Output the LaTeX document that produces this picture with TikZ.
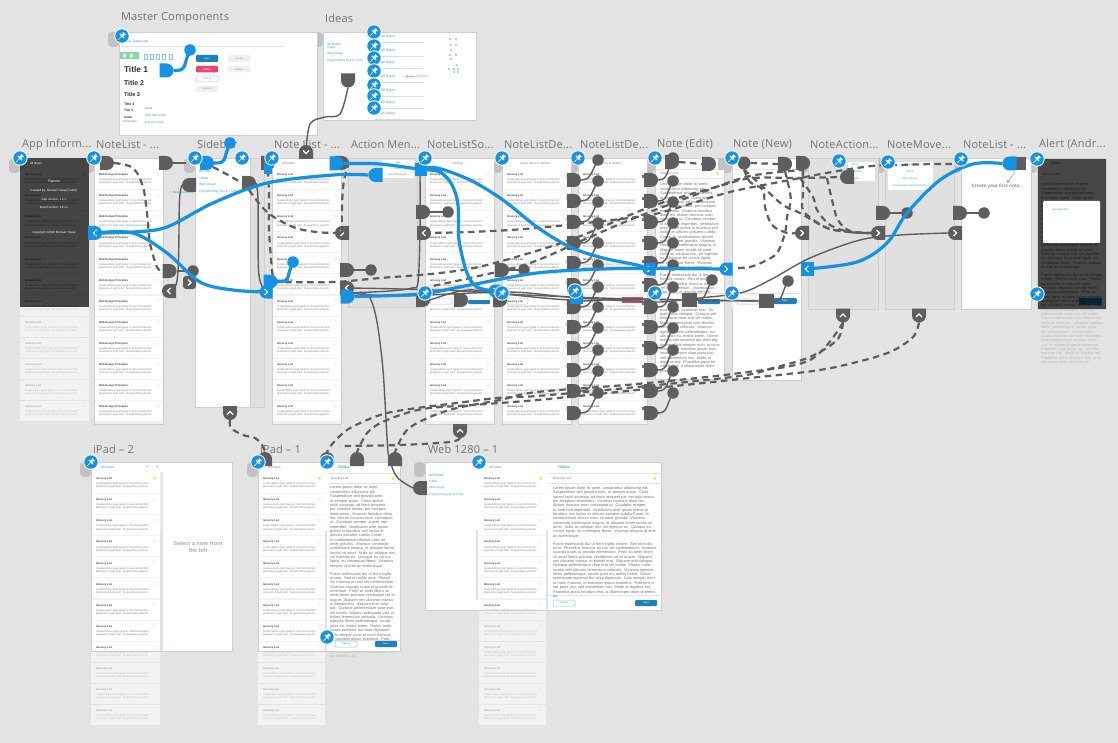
\documentclass[tikz,border=0pt]{standalone}
\usepackage{fontspec}
\setmainfont{Liberation Sans}
\newfontfamily\ttlfont[LetterSpace=2.0]{Open Sans}
\newfontfamily\djv{DejaVu Sans}
\usetikzlibrary{shapes.misc,shapes.geometric}
\definecolor{bgc}{HTML}{E3E3E3}
\definecolor{hsgray}{HTML}{5E5E5E}
\definecolor{hsblue}{HTML}{1592E6}
\definecolor{linkb}{HTML}{3C9FDC}
\definecolor{savebl}{HTML}{1C7FBE}
\definecolor{pinkc}{HTML}{EE4467}
\definecolor{tabc}{HTML}{C2C2C2}
\definecolor{edgec}{HTML}{CFCFCF}
\definecolor{scrollc}{HTML}{DCE3EE}
\newcommand\fsz[1]{\fontsize{#1}{#1}\selectfont}
\tikzset{
 txt/.style={inner sep=0pt,outer sep=0pt,anchor=west},
 ttl/.style={txt,font=\ttlfont\fontsize{11}{11}\selectfont,text=black!55},
 lnk/.style={txt,font={\fsz{3.2}},text=linkb},
 boardst/.style={fill=white,draw=edgec,line width=.8pt},
 panelst/.style={fill=black!12,draw=edgec,line width=.8pt},
 hsbase/.style={rounded rectangle,minimum width=13pt,minimum height=14pt,inner sep=0pt,outer sep=0pt},
 hsr/.style={hsbase,rounded rectangle left arc=none,fill=#1},
 hsr/.default=hsgray,
 hsl/.style={hsbase,rounded rectangle right arc=none,fill=#1},
 hsl/.default=hsgray,
 hsd/.style={hsbase,rounded rectangle left arc=none,rotate=-90,fill=#1},
 hsd/.default=hsgray,
 hsu/.style={hsbase,rounded rectangle left arc=none,rotate=90,fill=#1},
 hsu/.default=hsgray,
 hsq/.style={rectangle,minimum width=15pt,minimum height=14pt,inner sep=0pt,outer sep=0pt,fill=#1},
 hsq/.default=hsgray,
 hdot/.style={circle,minimum size=11.5pt,inner sep=0pt,outer sep=0pt,fill=#1},
 hdot/.default=hsgray,
 gline/.style={draw=hsgray,line width=1.4pt},
 gdash/.style={draw=hsgray,line width=2.2pt,dash pattern=on 6.5pt off 4.5pt},
 bline/.style={draw=hsblue,line width=3.2pt},
 pinbase/.style={circle,minimum size=14.5pt,inner sep=0pt,fill=hsblue,draw=white,line width=.9pt},
 btn/.style={rounded corners=1pt},
 btntxt/.style={inner sep=0pt,font={\fsz{2.6}}},
}
\newcommand\cv[2]{\draw[#1] plot[smooth,tension=.55] coordinates {#2};}
\newcommand\pin[3]{\node[pinbase] (#1) at (#2,#3) {};
 \draw[white,line width=.7pt] (#2-3.8,#3+3.8)--(#2,#3);
 \draw[white,line width=1.2pt] (#2-2,#3-2)--(#2+2,#3+2);
 \draw[white,line width=2.2pt] (#2,#3)--(#2+2.2,#3-2.2);
 \draw[white,line width=1.2pt] (#2+.9,#3-3.4)--(#2+3.4,#3-.9);}
\newcommand\tabl[2]{\fill[tabc,rounded corners=4pt] (#1-11,#2) -- (#1-11,#2+15) -- (#1,#2+15) -- (#1,#2) -- cycle;}
\newcommand\rt[3]{\node[ttl] (#1) at (#2,144.5) {#3};}
\newcommand\chevR[4]{\node[#4] (#1) at (#2,#3) {};\draw[white,line width=1.3pt] (#2-1.5,#3-3)--(#2+1.5,#3)--(#2-1.5,#3+3);}
\newcommand\chevL[4]{\node[#4] (#1) at (#2,#3) {};\draw[white,line width=1.3pt] (#2+1.5,#3-3)--(#2-1.5,#3)--(#2+1.5,#3+3);}
\newcommand\chevU[4]{\node[#4] (#1) at (#2,#3) {};\draw[white,line width=1.3pt] (#2-3,#3+1.5)--(#2,#3-1.5)--(#2+3,#3+1.5);}
\newcommand\chevD[4]{\node[#4] (#1) at (#2,#3) {};\draw[white,line width=1.3pt] (#2-3,#3-1.5)--(#2,#3+1.5)--(#2+3,#3-1.5);}
\newcommand\onerow[8]{%
 \fill[#7] (#2,#3) rectangle (#2+#4,#3+20);
 \node[txt,opacity=#8,font={\fsz{2.7}\bfseries},text=black!75] (#1t) at (#2+5,#3+6) {#5};
 \node[inner sep=0pt,anchor=north west,align=left,opacity=#8,font={\fontsize{2.75}{3.1}\selectfont},text=black!48] (#1b) at (#2+5,#3+9.6) {Suspendisse eget ligula in risus fermentum\\placerat ut eget odio. Suspendisse potenti.};
 \ifcase#6
  \node[inner sep=0pt,opacity=#8,font={\djv\fsz{5}},text=black!22] (#1m) at (#2+#4-5.5,#3+5.5) {☆};
 \or
  \node[inner sep=0pt,opacity=#8,font={\djv\fsz{5}},text=yellow!75!orange] (#1m) at (#2+#4-5.5,#3+5.5) {★};
 \or
  \draw[black!40,line width=.3pt] (#2+#4-4,#3+8) circle[radius=1.5pt];
 \or
  \fill[black!55] (#2+#4-5.5,#3+6.5) rectangle (#2+#4-2.5,#3+9.5);
 \fi}
\newcommand\notelist[9]{%
 \fill[black!5] (#2,#4) rectangle (#2+#3,#6);
 \foreach \k in {1,...,#5}{%
  \pgfmathsetmacro\ry{#4+21.09*(\k-1)}%
  \pgfmathtruncatemacro\isf{(\ry+20>#6)?1:0}%
  \pgfmathtruncatemacro\isb{(\ry<#6)?1:0}%
  \pgfmathtruncatemacro\mk{(\k==1)?#8:#9}%
  \ifnum\isf=1 \onerow{#1f\k}{#2}{\ry}{#3}{#7}{\mk}{black!5}{.42}\fi
  \ifnum\isb=1 \begin{scope}\clip (#2-1,#4-2) rectangle (#2+#3+1,#6);\onerow{#1b\k}{#2}{\ry}{#3}{#7}{\mk}{white}{1}\end{scope}\fi
 }}
\def\ltextA{Lorem ipsum dolor sit amet, consectetur adipiscing elit. Suspendisse sed gravida ante, ut semper quam. Class aptent taciti sociosqu ad litora torquent per conubia nostra, per inceptos himenaeos. Vivamus faucibus diam leo, dictum rhoncus nunc consequat ut. Curabitur semper ut ante non imperdiet. Vestibulum ante ipsum primis in faucibus orci luctus et ultrices posuere cubilia Curae; In condimentum dictum nunc sit amet gravida. Vivamus commodo scelerisque magna, et aliquam lorem iaculis sit amet. Nulla ac volutpat nisi, vel egestas ex. Quisque eu cursus ligula, eu consequat libero. Vivamus tempus id ante ac scelerisque.}
\def\ltextB{Fusce malesuada dui ut leo fringilla ornare. Sed id mollis urna. Phasellus rhoncus eu nisi vel condimentum. Vivamus suscipit turpis ut gravida elementum. Proin sit amet libero sit amet lorem pulvinar vestibulum vel et augue. Aliquam nec placerat massa, ut blandit erat. Aliquam erat volutpat. Quisque pellentesque vitae erat vel mattis. Mauris malesuada velit ultricies fermentum vehicula. Vivamus egestas libero pellentesque, iaculis justo eu, mattis lorem. Donec malesuada euismod dui vitae dignissim. Duis semper nunc at nunc rhoncus, et maximus ipsum maximus. Praesent vitae porta nisi, sed elementum nisi. Morbi et dapibus est. Phasellus porta tincidunt erat, a ullamcorper dolor pharetra ac.}
\newcommand\notetext[6]{%
 \node[inner sep=0pt,anchor=north west,align=left,text width=#4pt,text=#5,opacity=#6,font={\fontsize{3.85}{4.35}\selectfont}] (#1) at (#2,#3) {\hyphenpenalty=10000\exhyphenpenalty=10000\relax\ltextA\par\vspace{3.5pt}\ltextB};}
\begin{document}
\begin{tikzpicture}[x=1pt,y=-1pt]
\useasboundingbox (0,0) rectangle (1118,743);
\fill[bgc] (0,0) rectangle (1118,743);
\foreach \a/\b in {119/32,323/32,20/158,94/158,195/158,272/158,425/158,502/158,578/158,655/158,732/158,808/158,885/158,961/158,1037/158,91/462,258/462,425/462}{\tabl{\a}{\b}}
\node[ttl] (tMaster) at (121,18) {Master Components};
\node[ttl] (tIdeas) at (325,18) {Ideas};
\rt{tra}{22}{App Inform...}
\rt{trb}{96}{NoteList - ...}
\rt{trc}{197}{Sidebar}
\rt{trd}{274}{Note List - ...}
\rt{tre}{351}{Action Men...}
\rt{trf}{427}{NoteListSo...}
\rt{trg}{504}{NoteListDe...}
\rt{trh}{580}{NoteListDe...}
\rt{tri}{657}{Note (Edit)}
\rt{trj}{733}{Note (New)}
\rt{trk}{810}{NoteAction...}
\rt{trl}{887}{NoteMove...}
\rt{trm}{963}{NoteList - ...}
\rt{trn}{1039}{Alert (Andr...}
\node[ttl] (tp2) at (93,449) {iPad – 2};
\node[ttl] (tp1) at (260,449) {iPad – 1};
\node[ttl] (tweb) at (428,449) {Web 1280 – 1};
% Master components
\draw[boardst] (119,32) rectangle (317,135);
\node[lnk] (mHead) at (125,41.5) {Note Taking App};
\draw[black!12,line width=.8pt] (122,46.5) -- (283,46.5);
\fill[green!45!teal!50] (120,52) rectangle (139,59);
\fill[white] (123,54) rectangle (126,57.5) (130,54) rectangle (133,57.5);
\foreach \a in {146,152,158,164,171}{\draw[linkb!60,line width=.5pt] (\a-1.5,54) rectangle (\a+1.5,59);}
\node[txt,font={\fsz{8.4}\bfseries},text=black!80] (mT1) at (124,70) {Title 1};
\node[txt,font={\fsz{7}\bfseries},text=black!80] (mT2) at (124,83) {Title 2};
\node[txt,font={\fsz{5.6}\bfseries},text=black!80] (mT3) at (124,95) {Title 3};
\node[txt,font={\fsz{3.6}\bfseries},text=black!80] (mT4) at (124,104.5) {Title 4};
\node[txt,font={\fsz{3.2}\bfseries},text=black!80] (mT5) at (124,110.5) {Title 5};
\node[txt,font={\fsz{3}\bfseries},text=black!80] (mT6) at (124,117) {Small};
\node[txt,font={\fsz{3}},text=black!50] (mT7) at (123,122) {Paragraph};
\node[txt,font={\fsz{3}},text=black!55] (mL) at (145,108.5) {Label};
\node[txt,font={\fsz{3.3}},text=linkb] (mLk) at (145,115.5) {Link text large};
\node[txt,font={\fsz{2.9}},text=linkb] (mLs) at (145,122) {Link text small};
\fill[savebl,btn] (196,55) rectangle (218,62); \node[btntxt,text=white] (mB1) at (207,58.5) {Save};
\fill[pinkc,btn] (196,66) rectangle (218,72.5); \node[btntxt,text=white] (mB2) at (207,69.2) {Delete};
\draw[linkb!50,btn,line width=.5pt] (196,76) rectangle (218,82); \node[btntxt,text=linkb] (mB3) at (207,79) {Cancel};
\fill[black!6,btn] (196,86) rectangle (218,92); \node[btntxt,text=black!45] (mB4) at (207,89) {Inactive};
\fill[black!6,btn] (228,55) rectangle (250,62); \node[btntxt,text=black!45] (mB5) at (239,58.5) {Saved};
\fill[black!6,btn] (228,66) rectangle (250,72.5); \node[btntxt,text=black!45] (mB6) at (239,69.2) {Delete};
% Ideas
\draw[boardst] (323,32) rectangle (476,120);
\node[lnk,font={\fsz{3.5}}] (iA) at (327,44.5) {All Notes};
\node[lnk,font={\fsz{3}}] (iB) at (327,47.5) {Tidbits};
\node[lnk,font={\fsz{3}}] (iC) at (327,54) {Web Design};
\node[lnk,font={\fsz{3}}] (iD) at (327,61) {Programming Tips \& Tricks};
\foreach \i/\y in {1/36.5,2/50.5,3/62.5,4/76,5/90,6/102,7/113}{\node[lnk,font={\fsz{3.5}}] (iN\i) at (381,\y) {All Notes}; \draw[black!14,line width=.8pt] (375,\y+6) -- (424,\y+6);}
\node[txt,font={\fsz{3.5}},text=pinkc!70] (iCh) at (416,76.5) {Chosen};
\draw[pinkc!50,line width=.4pt,-stealth] (415,76.5) -- (405,76.5);
\foreach \a/\b in {450/39,456/39,451/45,456/45,451/50,450/55,456/55,451/59,457/65,449/69,454/69,458/69,454/72,458/72}{\fill[linkb!45] (\a-1,\b-1) rectangle (\a+1,\b+1);}
% App Information
\notelist{la}{20}{69}{169}{12}{307}{Grocery List}{1}{0}
\fill[white] (20,158) rectangle (89,169);
\fill[black,opacity=.73] (20,158) rectangle (89,307);
\node[txt,anchor=center,font={\fsz{3.3}},text=white] (aI1) at (54,181) {Flatnote};
\node[txt,anchor=center,font={\fsz{3}},text=white!90] (aI2) at (54,191) {Created by: Michael Yasap (Gulch)};
\node[txt,anchor=center,font={\fsz{3}},text=white!90] (aI3) at (54,200) {App version: 1.x.x};
\node[txt,anchor=center,font={\fsz{3}},text=white!90] (aI4) at (54,207.5) {Board version: 16.x.x};
\node[txt,anchor=center,font={\fsz{3}},text=white!90] (aI5) at (54,233) {Copyright ©2016 Michael Yasap};
\node[lnk,text=white!50,font={\fsz{3}}] (aI6) at (30,163) {All Notes};
% NoteList
\fill[white] (94,158) rectangle (163,169);
\notelist{lb}{94}{69}{169}{12}{424}{Web Design Principles}{0}{0}
\draw[edgec,line width=.8pt] (94,158) rectangle (163,424);
% Sidebar
\draw[panelst] (250,158) rectangle (264,407);
\draw[boardst] (195,158) rectangle (250,407);
\node[lnk] (sA) at (199,171) {All Notes};
\node[lnk] (sB) at (199,178) {Tidbits};
\node[lnk] (sC) at (199,185) {Web Design};
\node[lnk] (sD) at (199,192) {Programming Tips \& Tricks};
\node[lnk] (sE) at (170,192.5) {+ New Notebook};
% Note List
\fill[white] (272,158) rectangle (341,169);
\node[txt,font={\fsz{3.2}},text=black!50] (dH) at (282,163.5) {All Notes};
\notelist{ld}{272}{69}{169}{12}{424}{Grocery List}{1}{0}
\draw[edgec,line width=.8pt] (272,158) rectangle (341,424);
% Action menu
\draw[panelst] (348,158) rectangle (417,307);
\fill[white] (382,160) rectangle (414,178);
\node[lnk,anchor=center,font={\fsz{2.6}}] (eA) at (398,162.5) {Edit};
\node[lnk,anchor=center,font={\fsz{2.6}}] (eB) at (398,169) {Delete};
\node[lnk,anchor=center,font={\fsz{2.6}}] (eC) at (398,175) {App Information};
% NoteListSort
\fill[white] (425,158) rectangle (494,169);
\node[txt,anchor=center,font={\fsz{3.2}},text=black!50] (fH) at (459,163.5) {Sorting...};
\notelist{lf}{425}{69}{169}{12}{424}{Grocery List}{0}{0}
\draw[edgec,line width=.8pt] (425,158) rectangle (494,424);
% NoteListDelete 1 / 2
\fill[white] (502,158) rectangle (571,169);
\node[txt,anchor=center,font={\fsz{3}},text=black!50] (gH) at (536,163.5) {Select Items to Delete...};
\notelist{lg}{502}{69}{169}{12}{424}{Grocery List}{2}{2}
\draw[edgec,line width=.8pt] (502,158) rectangle (571,424);
\fill[white] (578,158) rectangle (647,169);
\node[txt,anchor=center,font={\fsz{3}},text=black!50] (hH) at (612,163.5) {Items to Delete...};
\notelist{lh}{578}{69}{169}{12}{424}{Grocery List}{3}{3}
\draw[edgec,line width=.8pt] (578,158) rectangle (647,424);
% Note (Edit)
\draw[boardst] (655,158) rectangle (724,379);
\node[txt,font={\fsz{3.3}},text=black!50] (iEt) at (660,174) {Grocery List};
\node[inner sep=0pt,font={\djv\fsz{5}},text=yellow!75!orange] (iEs) at (717.5,174) {★};
\draw[black!10,line width=.5pt] (655,169)--(724,169) (655,178)--(724,178);
\notetext{iEx}{660}{183}{60}{black!55}{1}
% Note (New)
\draw[boardst] (732,158) rectangle (801,380);
\draw[black!10,line width=.5pt] (732,169)--(801,169);
% NoteAction / NoteMove / empty list
\draw[panelst] (808,158) rectangle (878,309);
\fill[white] (848,162) rectangle (875,181);
\node[lnk,font={\fsz{2.6}}] (kA) at (852,165) {Move};
\node[lnk,font={\fsz{2.6}}] (kB) at (852,172) {Rename ...};
\node[lnk,font={\fsz{2.6}}] (kC) at (852,179) {Delete};
\draw[panelst] (885,158) rectangle (954,309);
\fill[white] (888,162) rectangle (933,190);
\node[lnk,anchor=center,font={\fsz{2.6}}] (lA) at (910,164.5) {All Notes};
\node[lnk,anchor=center,font={\fsz{2.6}}] (lB) at (910,172) {Tidbits};
\node[lnk,anchor=center,font={\fsz{2.6}}] (lC) at (910,179) {Web Design};
\node[lnk,anchor=center,font={\fsz{2.6}}] (lD) at (910,186) {Programming Tips and Tricks};
\draw[boardst] (961,158) rectangle (1031,309);
\node[txt,anchor=center,font={\fsz{4.7}\bfseries},text=black!45] (mC) at (996,186) {Create your first note.};
\draw[black!40,line width=.5pt,-stealth] (1015,172) -- (1007,183);
% Alert
\notetext{nxf}{1041}{183}{62}{black!28}{1}
\fill[bgc] (1037,158) rectangle (1106,309);
\begin{scope}\clip (1037,158) rectangle (1106,309);
\fill[white] (1037,158) rectangle (1106,309);
\notetext{nx}{1041}{183}{62}{black!60}{1}
\end{scope}
\node[txt,font={\fsz{3.2}\bfseries},text=linkb] (nH) at (1050,163.5) {TODOs};
\node[txt,font={\fsz{3.2}},text=black!60] (nG) at (1042,174.5) {Grocery List};
\draw[savebl,fill=savebl] (1079,298) rectangle (1101,304);
\fill[black,opacity=.72] (1037,158) rectangle (1106,309);
\fill[white,rounded corners=1pt] (1043,201) rectangle (1100,243);
\node[lnk,font={\fsz{2.7}}] (nA) at (1052,210) {alert (maybe)};
\draw[edgec,line width=.8pt] (1037,158) rectangle (1106,309);
% bottom bars
\foreach \a in {425,655,732}{\fill[white] (\a,293) rectangle (\a+69,307);\draw[black!12,line width=.5pt] (\a,293)--(\a+69,293);}
\draw[linkb!55,btn,line width=.5pt] (430,298) rectangle (452,304);
\fill[savebl,btn] (468,300) rectangle (490,304);
\draw[linkb!55,btn,line width=.5pt] (507,298) rectangle (528,304);
\fill[pinkc] (622,297) rectangle (643,303);
\draw[linkb!55,btn,line width=.5pt] (665,299) rectangle (690,304);
\fill[savebl,btn] (698,299) rectangle (720,304);
\draw[linkb!55,btn,line width=.5pt] (737,299) rectangle (759,304);
\fill[savebl,rounded corners=2pt] (773,298) rectangle (797,304);
\node[btntxt,text=white] (jS) at (785,301) {Save};
% iPad 2
\draw[boardst] (91,462) rectangle (232,651);
\fill[scrollc] (160,530) rectangle (163,651);
\fill[black!8] (160,472) rectangle (163,530);
\notelist{p2}{91}{69}{473}{12}{651}{Grocery List}{1}{0}
\draw[edgec,line width=.8pt] (91,462) rectangle (232,651);
\node[lnk,font={\fsz{3.4}}] (p2A) at (101,467.5) {All Notes};
\node[txt,font={\fsz{4}},text=linkb] (p2B) at (146,467.5) {+};
\node[txt,font={\djv\fsz{4}\bfseries},text=linkb] (p2C) at (155,467.5) {⋮};
\node[align=center,inner sep=0pt,font={\fontsize{5.6}{7}\selectfont\bfseries},text=black!32] (p2S) at (198,546.5) {Select a note from\\the left};
% iPad 1
\notetext{p1xf}{330}{486}{66}{black!28}{1}
\fill[white] (258,462) rectangle (400,651);
\notelist{p1}{258}{67}{473}{12}{651}{Grocery List}{1}{0}
\fill[scrollc] (325,530) rectangle (327,662);
\begin{scope}\clip (328,462) rectangle (400,640);
\notetext{p1x}{330}{486}{66}{black!55}{1}
\end{scope}
\draw[edgec,line width=.8pt] (258,462) rectangle (400,651);
\draw[black!12,line width=.5pt] (328,640)--(400,640) (328,473)--(400,473) (328,483)--(400,483);
\node[txt,font={\fsz{3.2}},text=black!50] (p1A) at (268,467.5) {All Notes};
\node[txt,font={\fsz{3.4}\bfseries},text=linkb] (p1B) at (338,467.5) {TODOs};
\node[txt,font={\fsz{3.2}},text=black!55] (p1C) at (331,478.5) {Grocery List};
\node[inner sep=0pt,font={\djv\fsz{5}},text=yellow!75!orange] (p1D) at (393,478.5) {★};
\draw[linkb!60,btn,line width=.5pt] (335,641) rectangle (357,647); \node[btntxt,text=linkb] (p1E) at (346,644) {Cancel};
\fill[savebl,btn] (375,641) rectangle (397,647); \node[btntxt,text=white] (p1F) at (386,644) {Save};
% Web 1280
\notelist{p3}{479}{67}{473}{12}{610}{Grocery List}{1}{0}
\fill[white] (425,462) rectangle (479,610) (546,462) rectangle (661,610) (479,462) rectangle (546,473);
\fill[scrollc] (476,530) rectangle (478,600) (546,530) rectangle (548,610);
\draw[edgec,line width=.8pt] (425,462) rectangle (661,610);
\node[lnk,font={\fsz{3.6}}] (p3A) at (429,475.5) {All Notes};
\node[lnk,font={\fsz{2.9}}] (p3B) at (429,481) {Tidbits};
\node[lnk,font={\fsz{2.9}}] (p3C) at (429,488) {Web Design};
\node[lnk,font={\fsz{2.9}}] (p3D) at (429,495) {Programming Tips \& Tricks};
\node[txt,font={\fsz{3.2}},text=black!50] (p3E) at (489,467.5) {All Notes};
\node[txt,font={\fsz{3.4}\bfseries},text=linkb] (p3F) at (558,467.5) {TODOs};
\node[txt,font={\fsz{3.3}},text=black!55] (p3G) at (553,478.5) {Grocery List};
\node[inner sep=0pt,font={\djv\fsz{5}},text=yellow!75!orange] (p3H) at (655,478.5) {★};
\draw[black!10,line width=.5pt] (549,473)--(661,473) (549,483)--(661,483) (549,595)--(661,595);
\notetext{p3x}{553}{486.5}{105}{black!55}{1}
\draw[linkb!60,btn,line width=.5pt] (553,600) rectangle (575,606); \node[btntxt,text=linkb] (p3I) at (564,603) {Cancel};
\fill[savebl,btn] (635,600) rectangle (657,606); \node[btntxt,text=white] (p3J) at (646,603) {Save};
% gray hotspots
\node[hsd] (hsIdeas) at (348,80.5) {};
\chevD{chTop}{306}{152}{hsu}
\node[hsr] (ha) at (107,163) {};
\node[hsr] (hb) at (166,163) {};
\coordinate (hbEnd) at (186,163);
\node[hsl] (hc) at (189,185) {};
\node[hsr] (hd) at (169.5,271) {}; \node[hdot] (hdd) at (193,271) {};
\node[hsr] (he) at (249,183) {};
\node[hsr] (hf) at (347,270) {}; \node[hdot] (hfd) at (371,270) {};
\node[hsr] (hg) at (423,212) {}; \node[hdot] (hgd) at (448,212) {};
\node[hsr] (hh) at (502,270) {}; \node[hdot] (hhd) at (524,270) {};
\node[hsr] (hi) at (342,163) {};
\node[hsr] (hj) at (268,163) {};
\chevL{chA}{169}{291}{hsl}
\chevR{chB}{189.5}{282.5}{rectangle,rounded corners=3pt,minimum size=13pt,inner sep=0pt,fill=hsgray}
\chevR{chC}{342}{233}{hsl,minimum width=12pt}
\chevL{chD}{424}{233}{hsr,minimum width=12pt}
\chevL{chE}{347}{288}{hsr,minimum width=12pt}
\chevR{chF}{802}{233}{hsl,minimum width=12pt}
\chevR{chG}{878}{233}{hsl,minimum width=12pt}
\chevR{chH}{955}{233}{hsl,minimum width=12pt}
\chevU{chI}{230}{413}{hsd}
\chevU{chJ}{843}{315.5}{hsd}
\chevU{chK}{919}{315.5}{hsd}
\chevU{chL}{460}{431}{hsd}
\node[hsr] (t1) at (672,162) {}; \node[hdot] (t1d) at (673,158) {};
\node[hsr] (t2) at (709,164) {};
\fill[tabc] (718,158) rectangle (730,170);
\node[hdot,minimum size=13pt] (t3) at (744,163) {};
\node[hsr] (t4) at (785,164) {};
\node[hsr] (t5) at (803,163) {};
\node[hsl] (t6) at (847,177) {};
\node[hsr] (r1) at (883,213) {}; \node[hdot] (r1d) at (907,213) {};
\node[hsr] (r2) at (960,213) {}; \node[hdot] (r2d) at (984,213) {};
\node[hsr] (b0) at (423,300) {};
\node[hsr] (b1) at (461,300) {};
\node[hsr] (b2) at (500,300) {};
\node[hsq] (b3) at (689,300) {}; \node[hdot] (b3d) at (712,280) {};
\node[hsq] (b4) at (766,301) {}; \node[hdot] (b4d) at (788,281) {};
\node[hsl] (d1) at (420,488) {};
\node[hsu] (d2) at (265,459) {};
\node[hsu] (d3) at (327,459) {};
\node[hsu] (d4) at (357,459) {};
\node[hsu] (d5) at (395,459) {};
\node[hsq,minimum width=10pt,minimum height=13pt] (hAq) at (1021,163.5) {};
\coordinate (bundA) at (350,293);
\coordinate (bundB) at (360,292);
\coordinate (sortL) at (420,176);
\foreach \i/\yy in {1/180,2/201,3/222,4/243,5/263,6/285,7/307,8/327,9/348,10/370,11/391,12/413}{
 \node[hsr] (cA\i) at (574,\yy) {};
 \node[hdot] (cAd\i) at (598,\yy-20) {};
 \node[hsr] (cB\i) at (651,\yy) {};
 \node[hdot] (cBd\i) at (673,\yy-20) {};
 \draw[gline] (cA\i.east) .. controls +(10,0) and +(-7,12) .. (cAd\i.center);
 \draw[gline] (cB\i.east) .. controls +(10,0) and +(-7,12) .. (cBd\i.center);
}
% gray solid connectors
\cv{gline}{(hsIdeas.east) (340,114) (325,117) (310,124) (chTop.center)}
\draw[gline] (hb.east) -- (hbEnd);
\cv{gline}{(hc.west) (179.5,200) (178.5,260) (176,285) (chA.center)}
\cv{gline}{(he.east) (258,200) (258.5,270) (263,288)}
\draw[gline] (hd.east) -- (hdd.center);
\draw[gline] (hf.east) -- (hfd.center);
\draw[gline] (hg.east) -- (hgd.center);
\draw[gline] (hh.east) -- (hhd.center);
\draw[gline] (r1.east) -- (r1d.center);
\draw[gline] (r2.east) -- (r2d.center);
\draw[gline] (b3.east) .. controls +(10,0) and +(-7,12) .. (b3d.center);
\draw[gline] (b4.east) .. controls +(10,0) and +(-7,12) .. (b4d.center);
\cv{gline}{(chH.west) (900,235) (860,240) (810,258) (770,280) (740,293) (690,299) (b3.east)}
\cv{gline}{(bundB) (370,298) (377,322) (383,370) (387,437) (389,457) (397,477) (d1.west)}
\cv{gline}{(sortL) (420,230) (418,282) (412,288) (390,291) (bundA)}
\cv{gline}{(bundA) (400,296) (507,292) (567,297) (650,302) (b3.west)}
\cv{gline}{(b0.east) (467,290) (507,294) (600,298) (682,300) (b4.west)}
\cv{gline}{(chE.center) (400,289) (480,292) (570,300) (640,299) (b3.west)}
\draw[gline] (b3.east) -- (b4.west);
% gray dashed connectors
\cv{gdash}{(ha.east) (133,168) (143,187) (147,213) (150,243) (157,267) (hd.west)}
\cv{gdash}{(213,167) (228,175) (he.west)}
\cv{gdash}{(he.south) (267,212) (293,227) (316,232) (chC.west)}
\cv{gdash}{(chC.center) (342,205) (344,180) (hi.east)}
\cv{gdash}{(hj.south) (269,197) (269,230) (272,270) (274,280)}
\cv{gdash}{(274,282) (333,282) (380,278) (440,273) (487,265) (570,240) (650,207) (723,185) (753,178) (800,178) (t6.west)}
\cv{gdash}{(chD.center) (470,232) (537,228) (637,217) (670,210) (730,192) (790,180) (832,172) (872,166) (900,165) (933,164) (960,164)}
\cv{gdash}{(423,288) (470,278) (530,263) (590,237) (637,217) (703,192) (750,176) (t5.south)}
\draw[gdash] (t1.east) -- (t2.west);
\draw[gdash] (t3.east) -- (t4.west);
\cv{gdash}{(t3.south) (750,182) (763,190) (765,207) (772,225) (787,233) (chF.west)}
\cv{gdash}{(t3.south) (763,187) (783,205) (800,213) (827,228) (850,232) (chG.west)}
\cv{gdash}{(t4.south) (790,192) (791,200) (787,217) (785,233) (777,253) (763,262) (750,267) (737,268)}
\cv{gdash}{(t5.south) (803,193) (802,207) (807,215) (827,228) (850,232) (chG.west)}
\cv{gdash}{(800,178) (813,197) (817,210) (830,225) (850,232) (chG.west)}
\cv{gdash}{(827,178) (832,200) (838,220) (850,231) (chG.west)}
\cv{gdash}{(chJ.east) (837,340) (810,357) (773,368) (740,376) (637,387) (537,396) (497,398) (457,403) (417,408) (387,413) (367,420) (347,430) (333,443) (d3.east)}
\cv{gdash}{(chK.east) (913,337) (890,352) (853,363) (813,371) (740,379) (637,390) (537,400) (473,405) (423,409) (387,420) (368,432) (d4.east)}
\cv{gdash}{(chJ.east) (810,360) (740,373) (637,384) (537,392) (500,400) (457,408) (430,417) (407,430) (d5.east)}
\cv{gdash}{(chI.east) (231,428) (243,435) (255,438) (262,445) (d2.east)}
\cv{gdash}{(chL.east) (450,442) (400,445) (340,446)}
% blue hotspots and connectors
\node[hsr=hsblue] (bM) at (166.5,70.5) {}; \node[hdot=hsblue] (bMd) at (190,50) {};
\draw[bline] (bM.east) .. controls +(14,0) and +(-8,18) .. (bMd.center);
\node[hsr=hsblue] (bS) at (207,163) {}; \node[hdot=hsblue] (bSd) at (230,143) {};
\draw[bline] (bS.east) .. controls +(14,0) and +(-8,18) .. (bSd.center);
\node[hsr=hsblue] (bN) at (270.5,281.5) {}; \node[hdot=hsblue] (bNd) at (293,262) {};
\draw[bline] (bN.east) .. controls +(14,0) and +(-8,18) .. (bNd.center);
\fill[hsblue] (264,162) rectangle (272,174);
\node[hsl=hsblue] (bAct) at (375.5,175) {};
\node[hsr=hsblue] (bTop) at (336.5,163.5) {};
\node[hsq=hsblue,minimum width=12pt,minimum height=13pt] (bSq) at (421,169.5) {};
\node[hsr=hsblue] (bLow) at (347.5,296.5) {};
\node[hsq=hsblue,minimum width=13pt,minimum height=11pt] (bDel) at (576.5,298) {};
\node[hsl=hsblue] (bEnd) at (1009.5,163.5) {};
\chevL{bcA}{95}{233}{hsr=hsblue,minimum width=13pt}
\chevR{bcB}{266}{292}{hsl=hsblue,minimum width=13pt,minimum height=13pt}
\chevR{bcC}{495}{291}{hsl=hsblue,minimum width=13pt,minimum height=13pt}
\chevR{bcD}{649}{269}{hsl=hsblue,minimum width=13pt,minimum height=13pt}
\chevR{bcE}{726}{269}{hsl=hsblue,minimum width=13pt,minimum height=13pt}
\chevL{bcF}{807}{269}{hsq=hsblue,minimum width=13pt,minimum height=14pt}
\cv{bline}{(bcA.center) (133,232) (167,227) (213,203) (267,183) (333,175) (bAct.west)}
\cv{bline}{(bcA.center) (133,233) (167,253) (200,282) (233,290) (bcB.center)}
\cv{bline}{(bTop.east) (380,164) (bSq.center)}
\cv{bline}{(bSq.center) (437,168) (470,180) (503,200) (537,227) (570,247) (603,258) (637,265) (bcD.center)}
\cv{bline}{(bSq.center) (440,172) (452,185) (458,205) (459,240) (467,273) (477,287) (bcC.center)}
\cv{bline}{(bLow.east) (420,294) (470,285) (537,273) (603,269) (649,268.5) (bcE.center)}
\cv{bline}{(bEnd.west) (973,164) (940,180) (907,213) (887,243) (857,262) (bcF.center)}
% pins
\pin{pin1}{122}{36}
\pin{pin2}{374}{32}\pin{pinIb}{374}{46}\pin{pinIc}{374}{58}\pin{pinId}{374}{71}\pin{pinIe}{374}{85}\pin{pinIf}{374}{96}\pin{pinIg}{374}{108}
\pin{pinRa}{20}{158}\pin{pinRb}{94}{158}\pin{pin3}{195}{158}\pin{pinRd}{242}{158}\pin{pinRe}{272}{158}\pin{pinRf}{425}{158}\pin{pinRg}{502}{158}\pin{pinRh}{578}{158}\pin{pinRi}{655}{158}\pin{pinRj}{732}{158}\pin{pinRk}{839}{161}\pin{pinRl}{888}{162}\pin{pinRm}{961}{159}\pin{pinRn}{1037}{159}
\pin{pinSa}{425}{293}\pin{pinSb}{502}{293}\pin{pinSc}{575}{291}\pin{pinSd}{655}{293}\pin{pinSe}{732}{293}\pin{pinSf}{1037}{294}
\pin{pinPa}{91}{462}\pin{pinPb}{258}{462}\pin{pinPc}{327}{462}\pin{pinPd}{479}{462}\pin{pinPe}{327}{637}
\end{tikzpicture}
\end{document}
